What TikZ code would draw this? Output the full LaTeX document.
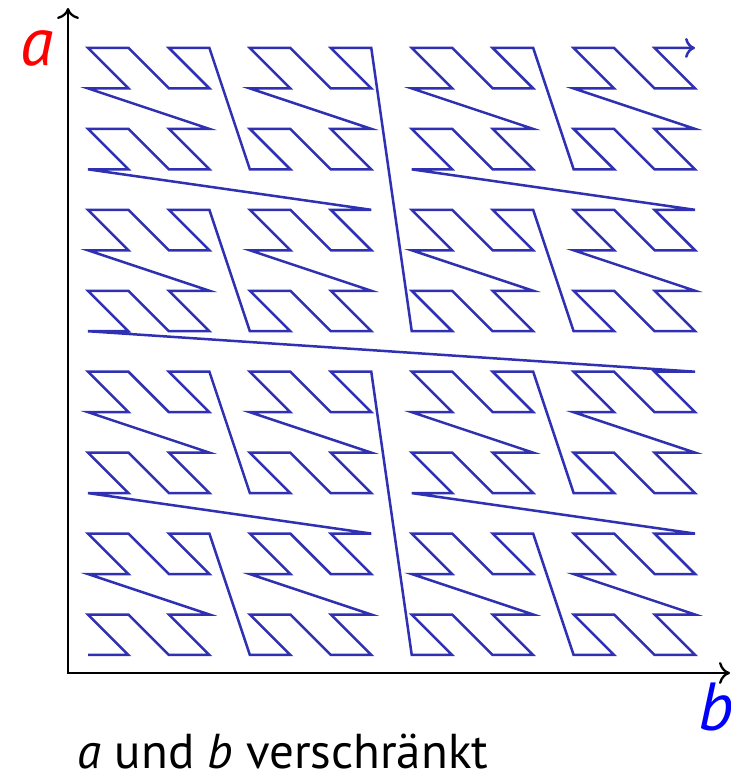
\documentclass[tikz,border=0pt]{standalone}
\usepackage{fontspec}
\setmainfont{PT Sans}
\usetikzlibrary{arrows.meta}
\definecolor{zblue}{RGB}{48,48,178}

\begin{document}
\begin{tikzpicture}[x=0.5pt, y=0.5pt,
    axis/.style={line width=1.15pt, {Computer Modern Rightarrow[length=5.5pt,width=11pt]}-{Computer Modern Rightarrow[length=5.5pt,width=11pt]}},
    zcurve/.style={zblue, line width=1.25pt, -{Computer Modern Rightarrow[length=5pt,width=10pt]}}]
  \useasboundingbox (0,0) rectangle (731,773);
  % Z-Kurve: Bits von a und b abwechselnd
  \def\zpath{}
  \foreach \i in {1,...,255}{
    \pgfmathtruncatemacro\zb{mod(\i,2)+2*mod(int(\i/4),2)+4*mod(int(\i/16),2)+8*mod(int(\i/64),2)}
    \pgfmathtruncatemacro\za{mod(int(\i/2),2)+2*mod(int(\i/8),2)+4*mod(int(\i/32),2)+8*mod(int(\i/128),2)}
    \pgfmathsetmacro\px{88+40.47*\zb}
    \pgfmathsetmacro\py{118+40.47*\za}
    \xdef\zpath{\zpath -- (\px,\py)}
  }
  \coordinate (start) at (88,118);
  \draw[zcurve] (start) \zpath;
  % Achsen
  \coordinate (O) at (68,100);
  \coordinate (atop) at (68,765);
  \coordinate (bend) at (730,100);
  \draw[axis] (atop) -- (O) -- (bend);
  \node[red, font=\fontsize{34}{40}\selectfont\itshape] (labela) at (37,725) {a};
  \node[blue, font=\fontsize{34}{40}\selectfont\itshape] (labelb) at (716,66) {b};
  \node[anchor=base, inner sep=0pt, font=\fontsize{24.5}{28}\selectfont] (caption) at (283,4) {\textit{a} und \textit{b} verschränkt};
\end{tikzpicture}
\end{document}
